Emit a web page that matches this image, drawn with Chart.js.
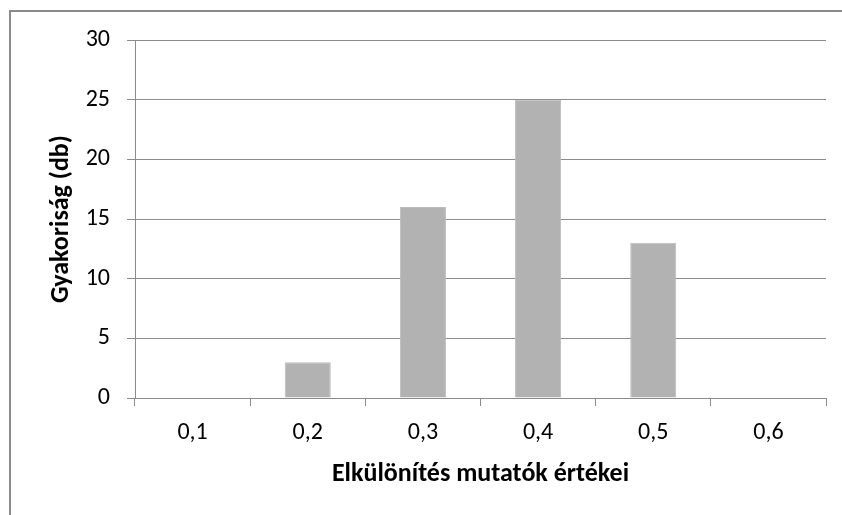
<!DOCTYPE html>
<html>
<head>
<meta charset="utf-8">
<script src="https://cdn.jsdelivr.net/npm/chart.js@4/dist/chart.umd.min.js"></script>
<style>
  html, body { margin: 0; padding: 0; background: #ffffff; }
  #wrap { position: relative; width: 842px; height: 515px; }
</style>
</head>
<body>
<div id="wrap"><canvas id="c" width="842" height="515"></canvas></div>
<script>
// Elkülönítés mutatók gyakorisági eloszlása
const categories = ['0,1', '0,2', '0,3', '0,4', '0,5', '0,6'];
const frequencies = [0, 3, 16, 25, 13, 0];
const yTicks = [0, 5, 10, 15, 20, 25, 30];

const FONT = 'Carlito, Calibri, Lato, sans-serif';
const GRID = '#8c8c8c';

// Outer frame of the chart object (top and left edges)
const framePlugin = {
  id: 'frame',
  beforeDraw(chart) {
    const ctx = chart.ctx;
    ctx.save();
    ctx.fillStyle = '#ffffff';
    ctx.fillRect(0, 0, chart.width, chart.height);
    ctx.strokeStyle = '#8a8a8a';
    ctx.lineWidth = 2;
    ctx.beginPath();
    ctx.moveTo(10, chart.height);
    ctx.lineTo(10, 11);
    ctx.lineTo(chart.width, 11);
    ctx.stroke();
    ctx.restore();
  }
};

new Chart(document.getElementById('c'), {
  type: 'bar',
  data: {
    labels: categories,
    datasets: [{
      data: frequencies,
      backgroundColor: '#b2b2b2',
      borderColor: '#bcbcbc',
      borderWidth: 1,
      categoryPercentage: 0.4,
      barPercentage: 1.0
    }]
  },
  plugins: [framePlugin],
  options: {
    responsive: false,
    animation: false,
    layout: { padding: { left: 0, top: 40, right: 16, bottom: 0 } },
    plugins: {
      legend: { display: false },
      tooltip: { enabled: false }
    },
    scales: {
      x: {
        grid: {
          offset: true,
          drawOnChartArea: false,
          drawTicks: true,
          tickLength: 8,
          color: GRID,
          lineWidth: 1
        },
        border: { display: true, color: GRID, width: 1 },
        ticks: {
          color: '#000000',
          font: { family: FONT, size: 24 },
          padding: 13,
          maxRotation: 0
        },
        title: {
          display: true,
          text: 'Elkülönítés mutatók értékei',
          color: '#000000',
          font: { family: FONT, size: 26, weight: 'bold' },
          padding: { top: 0, bottom: 25 }
        },
        afterFit(scale) { scale.height = 515 - 398; }
      },
      y: {
        min: 0,
        max: 30,
        afterBuildTicks(scale) { scale.ticks = yTicks.map(v => ({ value: v })); },
        grid: {
          color: GRID,
          lineWidth: 1,
          drawTicks: true,
          tickLength: 8
        },
        border: { display: true, color: GRID, width: 1 },
        ticks: {
          color: '#000000',
          font: { family: FONT, size: 24 },
          padding: 17
        },
        title: {
          display: true,
          text: 'Gyakoriság (db)',
          color: '#000000',
          font: { family: FONT, size: 26, weight: 'bold' },
          padding: { top: 46, bottom: 0 }
        },
        afterFit(scale) { scale.width = 135; }
      }
    }
  }
});
</script>
</body>
</html>
